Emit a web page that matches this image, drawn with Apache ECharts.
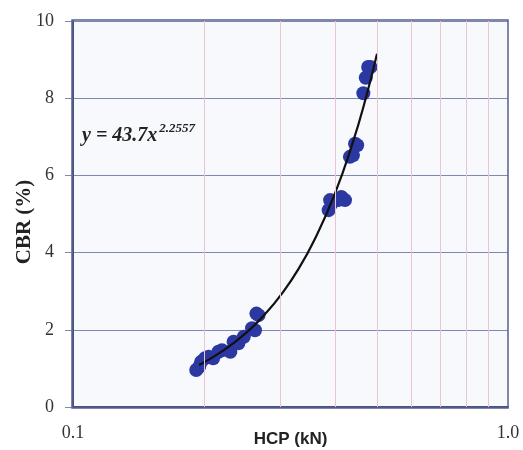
<!DOCTYPE html>
<html>
<head>
<meta charset="utf-8">
<script src="https://cdn.jsdelivr.net/npm/echarts@6/dist/echarts.min.js"></script>
<style>
  html, body { margin: 0; padding: 0; background: #ffffff; }
  #main { width: 523px; height: 450px; }
</style>
</head>
<body>
<div id="main"></div>
<script>
// measured points, HCP (kN) vs CBR (%)
var hcp = [0.192, 0.195, 0.197, 0.201, 0.205, 0.210, 0.216, 0.220, 0.230, 0.234, 0.240, 0.247, 0.258, 0.262, 0.264, 0.267,
           0.387, 0.390, 0.393, 0.407, 0.414, 0.422, 0.433, 0.440, 0.445, 0.450, 0.465, 0.471, 0.477, 0.483];
var cbr = [0.96, 1.04, 1.17, 1.26, 1.30, 1.26, 1.43, 1.47, 1.43, 1.69, 1.65, 1.82, 2.04, 1.99, 2.42, 2.38,
           5.10, 5.36, 5.27, 5.36, 5.44, 5.36, 6.48, 6.52, 6.82, 6.78, 8.13, 8.53, 8.81, 8.81];

// trend curve
var fitX = [0.195, 0.22, 0.25, 0.28, 0.30, 0.33, 0.36, 0.40, 0.44, 0.47, 0.50];
var fitY = [1.09, 1.44, 1.92, 2.48, 2.89, 3.58, 4.36, 5.53, 6.86, 7.96, 9.15];

var minorX = [0.2, 0.3, 0.4, 0.5, 0.6, 0.7, 0.8, 0.9];

var serif = '"Liberation Serif", "DejaVu Serif", serif';
var sans = '"Liberation Sans", Arial, sans-serif';

var chart = echarts.init(document.getElementById('main'));
chart.setOption({
  backgroundColor: '#ffffff',
  animation: false,
  grid: { left: 73, right: 15, top: 21, bottom: 43, outerBoundsMode: 'none', containLabel: false,
          show: true, backgroundColor: '#f8f9fc', borderWidth: 0 },
  xAxis: {
    type: 'log', logBase: 10, min: 0.1, max: 1,
    name: 'HCP (kN)', nameLocation: 'middle', nameGap: 24, nameMoveOverlap: false,
    nameTextStyle: { fontFamily: sans, fontWeight: 'bold', fontSize: 17, color: '#222' },
    axisLine: { show: true, onZero: false, lineStyle: { color: '#4a4f80', width: 2 } },
    axisTick: { show: false },
    axisLabel: { fontFamily: serif, fontSize: 18, color: '#333', margin: 17,
                 formatter: function (v) { return v.toFixed(1); } },
    splitLine: { show: false }
  },
  yAxis: {
    type: 'value', min: 0, max: 10, interval: 2,
    name: 'CBR (%)', nameLocation: 'middle', nameGap: 38, nameMoveOverlap: false,
    nameTextStyle: { fontFamily: serif, fontWeight: 'bold', fontSize: 21, color: '#222', padding: [0, 16, 0, 0] },
    axisLine: { show: true, lineStyle: { color: '#4a4f80', width: 2 } },
    axisTick: { show: true, inside: false, length: 8, lineStyle: { color: '#7f88b0' } },
    axisLabel: { fontFamily: serif, fontSize: 18, color: '#333', margin: 19 },
    splitLine: { show: true, lineStyle: { color: '#7d89b2', width: 1.2 } }
  },
  graphic: [{
    type: 'text', left: 82, top: 122,
    style: {
      text: '{b|y = 43.7x}{s|2.2557}',
      rich: {
        b: { fontFamily: serif, fontStyle: 'italic', fontWeight: 'bold', fontSize: 20, fill: '#222' },
        s: { fontFamily: serif, fontStyle: 'italic', fontWeight: 'bold', fontSize: 13, fill: '#222', padding: [0, 0, 14, 2] }
      }
    }
  }, {
    type: 'rect', shape: { x: 72, y: 20, width: 436, height: 388 },
    style: { fill: 'none', stroke: '#5a5f90', lineWidth: 1.5 }, z: 100
  }],
  series: [{
    type: 'line',
    data: [],
    markLine: {
      silent: true, symbol: 'none', label: { show: false },
      lineStyle: { color: '#ecc4cb', type: 'solid', width: 1 },
      data: minorX.map(function (v) { return { xAxis: v }; })
    }
  }, {
    type: 'scatter',
    data: hcp.map(function (x, i) { return [x, cbr[i]]; }),
    symbol: 'circle', symbolSize: 14,
    itemStyle: { color: '#2c38a2', opacity: 1 },
    z: 3
  }, {
    type: 'line',
    data: fitX.map(function (x, i) { return [x, fitY[i]]; }),
    smooth: true, showSymbol: false,
    lineStyle: { color: '#111', width: 2.2 },
    z: 4
  }]
});
</script>
</body>
</html>
